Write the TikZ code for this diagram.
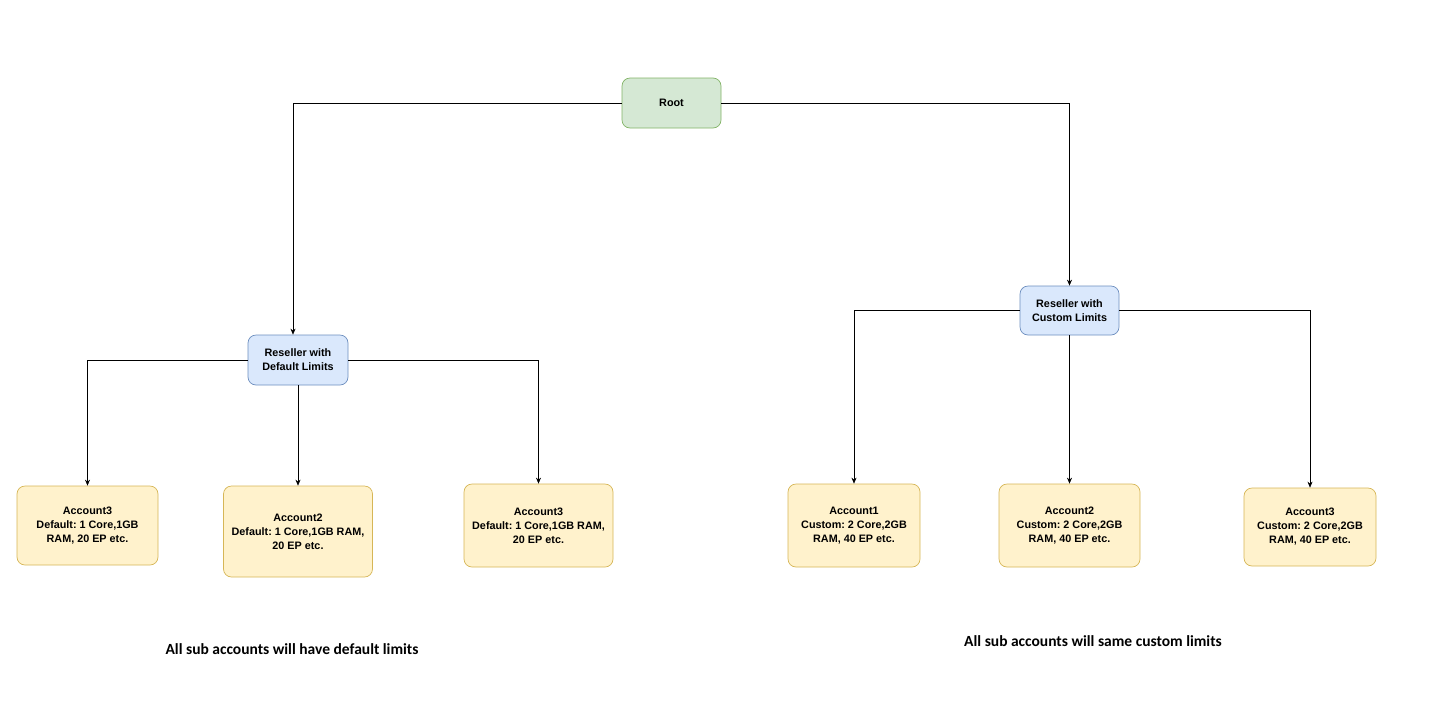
\documentclass[tikz,border=0pt]{standalone}
\usepackage{fontspec}
\setmainfont{Liberation Sans}
\newfontfamily\notefont{Carlito}
\usetikzlibrary{arrows.meta}
\frenchspacing
\definecolor{gfill}{HTML}{D5E8D4}\definecolor{gline}{HTML}{82B366}
\definecolor{bfill}{HTML}{DAE8FC}\definecolor{bline}{HTML}{6C8EBF}
\definecolor{yfill}{HTML}{FFF2CC}\definecolor{yline}{HTML}{D6B656}
\tikzset{
  box/.style={rounded corners=8pt, line width=0.7pt, align=center, inner sep=0pt,
    font=\fontsize{10.8}{14}\selectfont\bfseries\frenchspacing},
  rootbox/.style={box, fill=gfill, draw=gline},
  resbox/.style={box, fill=bfill, draw=bline},
  accbox/.style={box, fill=yfill, draw=yline},
  conn/.style={line width=0.6pt, -{Stealth[length=6pt,width=5pt]}},
  note/.style={font=\notefont\fontsize{15.5}{17}\selectfont\bfseries}
}
\begin{document}
\begin{tikzpicture}[x=1pt,y=-1pt]
\useasboundingbox (0,0) rectangle (1440,702);
\node[rootbox, minimum width=99pt, minimum height=50pt] (root) at (671.5,103) {Root};
\node[resbox, minimum width=100pt, minimum height=50pt] (res1) at (298,360) {Reseller with\\Default Limits};
\node[resbox, minimum width=99pt, minimum height=49pt] (res2) at (1069.5,310.5) {Reseller with\\Custom Limits};
\node[accbox, minimum width=141pt, minimum height=79pt] (a1) at (87.5,525.5) {Account3\\Default: 1 Core,1GB\\RAM, 20 EP etc.};
\node[accbox, minimum width=149pt, minimum height=91pt] (a2) at (298,531.5) {Account2\\Default: 1 Core,1GB RAM,\\20 EP etc.};
\node[accbox, minimum width=149pt, minimum height=83pt] (a3) at (538.5,525.5) {Account3\\Default: 1 Core,1GB RAM,\\20 EP etc.};
\node[accbox, minimum width=132pt, minimum height=83pt] (b1) at (854,525.5) {Account1\\Custom: 2 Core,2GB\\RAM, 40 EP etc.};
\node[accbox, minimum width=141pt, minimum height=83pt] (b2) at (1069.5,525.5) {Account2\\Custom: 2 Core,2GB\\RAM, 40 EP etc.};
\node[accbox, minimum width=132pt, minimum height=78pt] (b3) at (1310,527) {Account3\\Custom: 2 Core,2GB\\RAM, 40 EP etc.};
\node[note] (n1) at (292,649) {All sub accounts will have default limits};
\node[note] (n2) at (1093,641) {All sub accounts will same custom limits};
\draw[conn] (root.west) -| ([xshift=-5pt]res1.north);
\draw[conn] (root.east) -| (res2.north);
\draw[conn] (res1.west) -| (a1.north);
\draw[conn] (res1.south) -- (a2.north);
\draw[conn] (res1.east) -| (a3.north);
\draw[conn] (res2.west) -| (b1.north);
\draw[conn] (res2.south) -- (b2.north);
\draw[conn] (res2.east) -| (b3.north);
\end{tikzpicture}
\end{document}
